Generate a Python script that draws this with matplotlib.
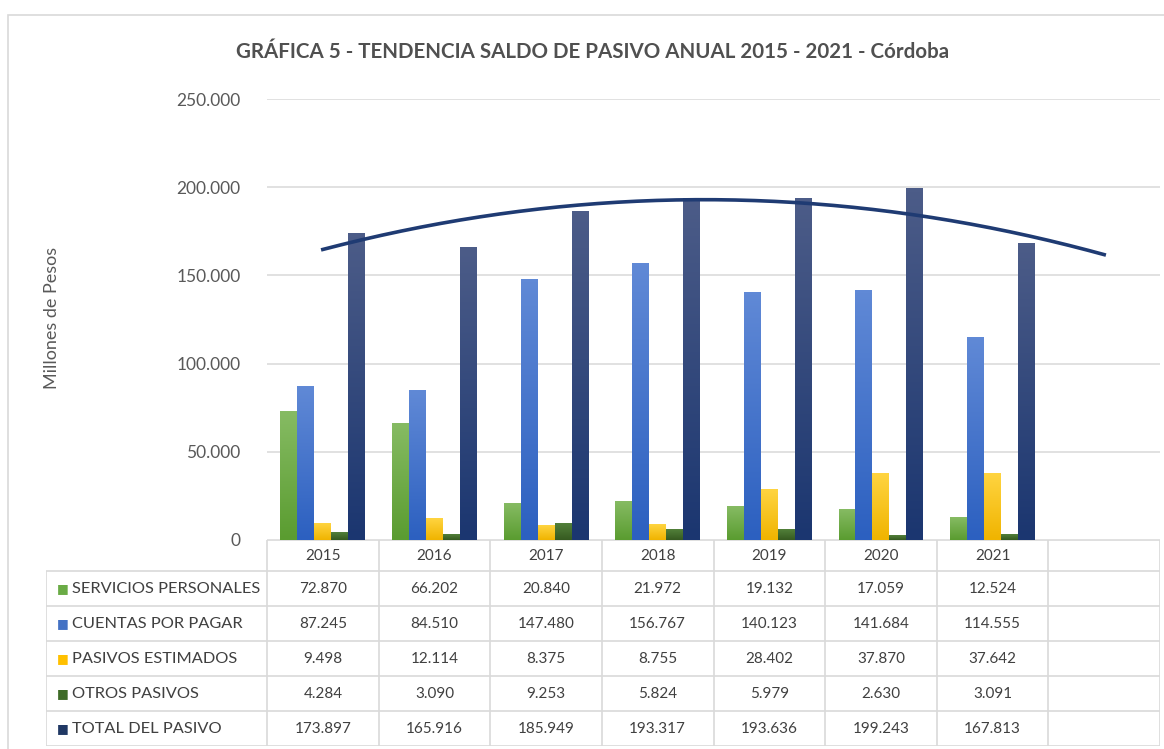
import numpy as np
import matplotlib
matplotlib.use("Agg")
import matplotlib.pyplot as plt
from matplotlib.colors import LinearSegmentedColormap
from matplotlib.patches import Rectangle
from matplotlib.ticker import FuncFormatter

plt.rcParams["font.family"] = ["Lato", "DejaVu Sans"]

years = ["2015", "2016", "2017", "2018", "2019", "2020", "2021"]
series_names = ["SERVICIOS PERSONALES", "CUENTAS POR PAGAR", "PASIVOS ESTIMADOS",
                "OTROS PASIVOS", "TOTAL DEL PASIVO"]
servicios = [72870, 66202, 20840, 21972, 19132, 17059, 12524]
cuentas = [87245, 84510, 147480, 156767, 140123, 141684, 114555]
estimados = [9498, 12114, 8375, 8755, 28402, 37870, 37642]
otros = [4284, 3090, 9253, 5824, 5979, 2630, 3091]
total = [173897, 165916, 185949, 193317, 193636, 199243, 167813]
all_series = [servicios, cuentas, estimados, otros, total]

# (top colour, bottom colour, legend colour)
colors = [("#86BB63", "#5A9C30", "#6AAB45"),
          ("#6089D6", "#2C60C0", "#4472C4"),
          ("#FFD440", "#F0B400", "#FFC000"),
          ("#52803A", "#365A20", "#3E6B27"),
          ("#4C5C88", "#1B3670", "#203864")]

n_cols = 8  # 7 years + empty forecast slot
W, H = 1164, 749


def fmt(v):
    return f"{v:,.0f}".replace(",", ".")


def gradient_bars(ax, x, heights, width, top, bottom):
    cmap = LinearSegmentedColormap.from_list("g", [bottom, top])
    grad = np.linspace(0, 1, 64).reshape(-1, 1)
    bars = ax.bar(x, heights, width=width, color="none", edgecolor="none")
    for b in bars:
        x0, y0 = b.get_x(), b.get_y()
        ax.imshow(grad, extent=[x0, x0 + b.get_width(), y0, y0 + b.get_height()],
                  origin="lower", cmap=cmap, aspect="auto", zorder=2,
                  interpolation="bilinear")


fig = plt.figure(figsize=(W / 100, H / 100), dpi=100)

# outer chart border
fig.patches.append(Rectangle((8 / W, -0.1), 1.2, 1 - 15 / H + 0.1,
                             transform=fig.transFigure, fill=False,
                             edgecolor="#D9D9D9", lw=1.2))

ax_l, ax_r = 267 / W, 1160 / W
ax_b, ax_t = 1 - 540 / H, 1 - 99 / H
ax = fig.add_axes([ax_l, ax_b, ax_r - ax_l, ax_t - ax_b])

x = np.arange(len(years))
bw = 0.152
for i, vals in enumerate(all_series):
    gradient_bars(ax, x + (i - 2) * bw, vals, bw, colors[i][0], colors[i][1])

# polynomial (order 2) trendline on the total, forecast one period forward
coef = np.polyfit(x, total, 2)
xt = np.linspace(0, n_cols - 1, 200)
ax.plot(xt, np.polyval(coef, xt), color="#1F3B73", lw=2.6, zorder=3)

ax.set_xlim(-0.5, n_cols - 0.5)
ax.set_ylim(0, 250000)
ax.set_yticks(np.arange(0, 250001, 50000))
ax.yaxis.set_major_formatter(FuncFormatter(lambda v, p: fmt(v)))
ax.tick_params(axis="y", length=0, pad=19, labelsize=12.5, labelcolor="#595959")
ax.set_xticks([])
ax.grid(axis="y", color="#D9D9D9", lw=1.1)
ax.set_axisbelow(True)
for s in ax.spines.values():
    s.set_visible(False)

fig.text(52 / W, 1 - 318 / H, "Millones de Pesos", rotation=90, ha="center",
         va="center", fontsize=13, color="#595959")
fig.text(593 / W, 1 - 52 / H, "GRÁFICA 5 - TENDENCIA SALDO DE PASIVO ANUAL 2015 - 2021 - Córdoba",
         ha="center", va="center", fontsize=14.8, fontweight="bold", color="#505050")

# data table under the plot
lab_w = 221 / 111.6
tb_l, tb_b = 46 / W, 1 - 746 / H
tax = fig.add_axes([tb_l, tb_b, ax_r - tb_l, ax_b - tb_b])
tax.set_xlim(-0.5 - lab_w, n_cols - 0.5)
edges = [0, 0.9, 1.9, 2.9, 3.9, 4.9, 5.9]
tax.set_ylim(edges[-1], 0)
tax.axis("off")
gc = "#D9D9D9"
# header row lines
tax.hlines(edges[0], -0.5, n_cols - 0.5, color=gc, lw=1.2)
tax.hlines(edges[1:], -0.5 - lab_w, n_cols - 0.5, color=gc, lw=1.2)
tax.vlines(np.arange(n_cols + 1) - 0.5, edges[0], edges[-1], color=gc, lw=1.2)
tax.vlines(-0.5 - lab_w, edges[1], edges[-1], color=gc, lw=1.2)

for j, yr in enumerate(years):
    tax.text(j, (edges[0] + edges[1]) / 2, yr, ha="center", va="center",
             fontsize=11, color="#404040")
for i, (name, vals) in enumerate(zip(series_names, all_series)):
    yc = (edges[i + 1] + edges[i + 2]) / 2
    tax.text(-0.5 - lab_w + 0.1, yc, "■", ha="left", va="center",
             fontsize=9, color=colors[i][2], family="DejaVu Sans")
    tax.text(-0.5 - lab_w + 0.23, yc, name, ha="left", va="center",
             fontsize=11.8, color="#404040")
    for j, v in enumerate(vals):
        tax.text(j, yc, fmt(v), ha="center", va="center", fontsize=11,
                 color="#404040")

fig.savefig("out.png", dpi=100)
